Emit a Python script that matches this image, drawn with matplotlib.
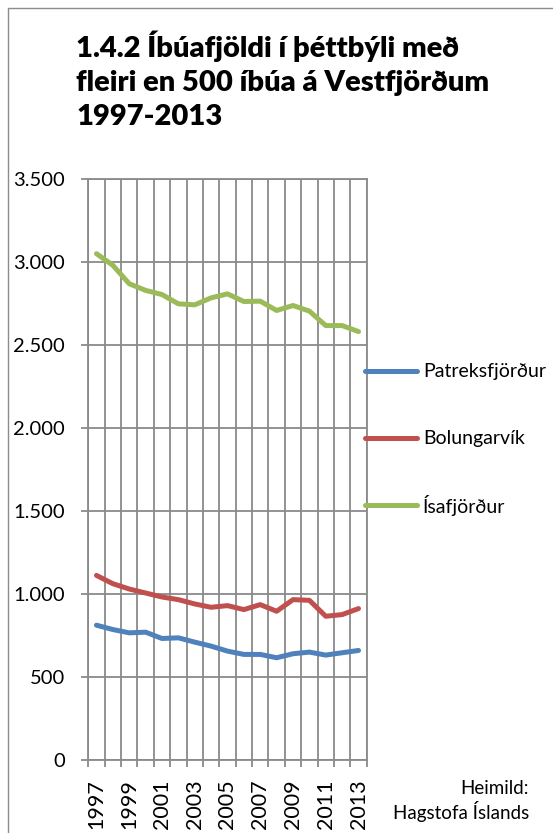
import matplotlib
matplotlib.use("Agg")
import matplotlib.pyplot as plt
from matplotlib.lines import Line2D
from matplotlib.patches import Rectangle
import numpy as np

plt.rcParams['font.family'] = ['Lato', 'DejaVu Sans']

years = list(range(1997, 2014))
patreksfjordur = [812, 786, 766, 770, 732, 736, 710, 686, 656, 636, 636, 616, 640, 650, 632, 646, 660]
bolungarvik = [1112, 1062, 1030, 1006, 982, 966, 940, 920, 930, 906, 936, 896, 966, 962, 866, 876, 912]
isafjordur = [3050, 2980, 2869, 2829, 2804, 2748, 2742, 2784, 2808, 2762, 2764, 2708, 2738, 2704, 2617, 2617, 2581]
series_names = ["Patreksfjörður", "Bolungarvík", "Ísafjörður"]
series_colors = ["#4F81BD", "#C0504D", "#9BBB59"]
title = "1.4.2 Íbúafjöldi í þéttbýli með\nfleiri en 500 íbúa á Vestfjörðum\n1997-2013"
source = "Heimild:\nHagstofa Íslands"

W, H = 553, 833
fig = plt.figure(figsize=(W / 100, H / 100), dpi=100)

# outer border
fig.add_artist(Rectangle((7.5 / W, -0.1), 2, 1.1 - 7.5 / H, transform=fig.transFigure,
                         fill=False, edgecolor="#8c8c8c", linewidth=1.0))

ax = fig.add_axes([88.3 / W, 1 - 760 / H, (366.7 - 88.3) / W, (760 - 179) / H])
x = np.arange(len(years))
data = [patreksfjordur, bolungarvik, isafjordur]
for vals, c in zip(data, series_colors):
    ax.plot(x, vals, color=c, linewidth=3.6, solid_capstyle='round', solid_joinstyle='round', zorder=3)

ax.set_xlim(-0.5, len(years) - 0.5)
ax.set_ylim(0, 3500)
grid_c = "#8a8a8a"
ax.set_yticks(np.arange(0, 3501, 500))
ax.set_yticklabels([f"{v:,}".replace(",", ".") for v in range(0, 3501, 500)])
ax.set_xticks(x[::2])
ax.set_xticklabels([str(y) for y in years[::2]], rotation=90)
ax.set_xticks(np.arange(-0.5, len(years)), minor=True)
ax.tick_params(axis='x', which='major', length=0, pad=14, labelsize=15.5)
ax.tick_params(axis='x', which='minor', length=5, width=1.3, color=grid_c, direction='out')
ax.tick_params(axis='y', which='major', length=5, width=1.3, color=grid_c, pad=12, labelsize=14.5)
ax.grid(axis='y', which='major', color=grid_c, linewidth=1.3)
ax.grid(axis='x', which='minor', color=grid_c, linewidth=1.3)
ax.grid(axis='x', which='major', visible=False)
for s in ax.spines.values():
    s.set_color(grid_c)
    s.set_linewidth(1.3)
ax.set_facecolor('none')

# legend
leg_y = [371, 438, 505]
for name, c, yy in zip(series_names, series_colors, leg_y):
    fig.add_artist(Line2D([365 / W, 417 / W], [1 - yy / H, 1 - yy / H], color=c, linewidth=3.6,
                          solid_capstyle='round', transform=fig.transFigure))
    fig.text(423 / W, 1 - yy / H, name, fontsize=14, va='center', ha='left')

fig.text(76 / W, 1 - 31 / H, title, fontsize=21, fontweight='heavy', va='top', ha='left', linespacing=1.36)
fig.text(529 / W, 1 - 780 / H, source, fontsize=13.5, va='top', ha='right', multialignment='right', linespacing=1.25)

fig.savefig("out.png", dpi=100)
